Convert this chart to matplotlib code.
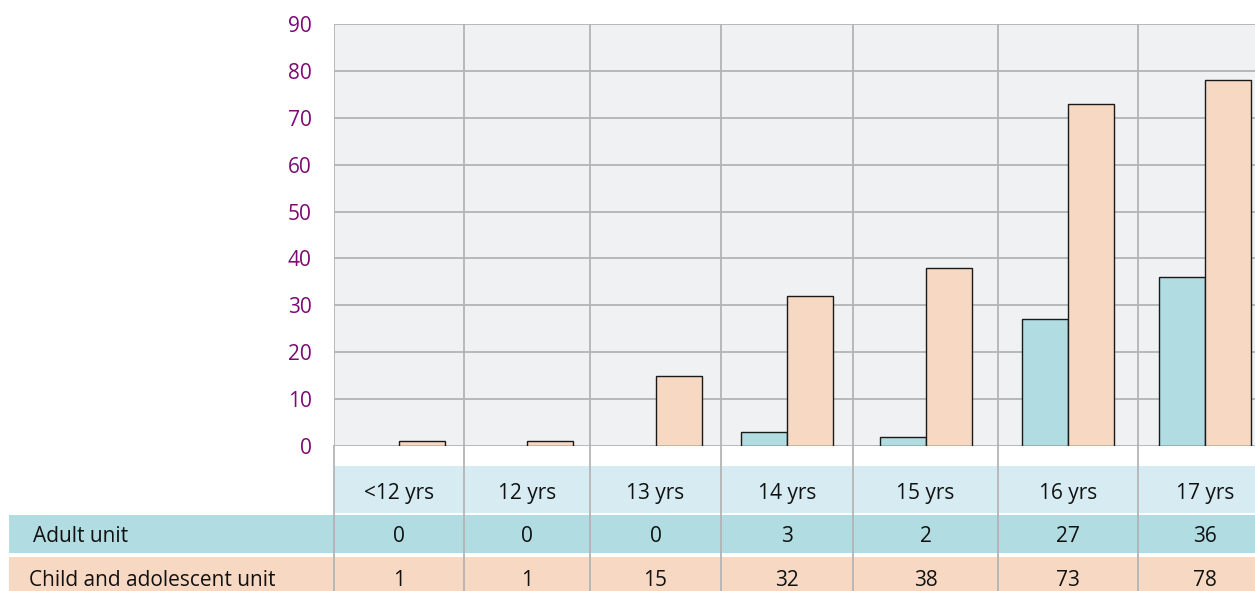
import numpy as np
import matplotlib.pyplot as plt
from matplotlib.patches import Rectangle

plt.rcParams['font.family'] = ['Open Sans', 'DejaVu Sans']

# data
ages = ["<12 yrs", "12 yrs", "13 yrs", "14 yrs", "15 yrs", "16 yrs", "17 yrs"]
adult = [0, 0, 0, 3, 2, 27, 36]
child = [1, 1, 15, 32, 38, 73, 78]
row_names = ["Adult unit", "Child and adolescent unit"]
yticks = [0, 10, 20, 30, 40, 50, 60, 70, 80, 90]

# layout (pixels of the 1255x591 canvas)
W, H = 1255, 591
col_edges = [334, 464, 590, 721, 853, 998, 1138, 1272]
plot_top, plot_bot = 24, 446
bar_w = 46

teal = '#b0dce2'
peach = '#f7d9c3'
head = '#d6ecf2'
grid = '#b4b4b6'
purple = '#7b0a72'
txt = '#111111'
fs = 15

fig = plt.figure(figsize=(W / 100, H / 100), dpi=100)

# table / background layer in pixel coordinates
tb = fig.add_axes([0, 0, 1, 1], zorder=0)
tb.set_xlim(0, W)
tb.set_ylim(H, 0)
tb.axis('off')
tb.add_patch(Rectangle((334, 466), W - 334, 47, color=head, lw=0))
tb.add_patch(Rectangle((9, 515), W - 9, 38, color=teal, lw=0))
tb.add_patch(Rectangle((9, 557), W - 9, 40, color=peach, lw=0))
for e in col_edges:
    tb.plot([e, e], [plot_bot, H], color=grid, lw=1.3)

centers = [(a + b) / 2 for a, b in zip(col_edges[:-1], col_edges[1:])]
for c, lab, a, ch in zip(centers, ages, adult, child):
    tb.text(c, 493, lab, ha='center', va='center', fontsize=fs, color=txt)
    tb.text(c, 537, str(a), ha='center', va='center', fontsize=fs, color=txt)
    tb.text(c, 581, str(ch), ha='center', va='center', fontsize=fs, color=txt)
tb.text(33, 537, row_names[0], ha='left', va='center', fontsize=fs, color=txt)
tb.text(29, 581, row_names[1], ha='left', va='center', fontsize=fs, color=txt)

# bar chart
ax = fig.add_axes([334 / W, 1 - plot_bot / H, (W - 334) / W, (plot_bot - plot_top) / H], zorder=1)
ax.set_facecolor('#f0f1f3')
ax.set_xlim(334, W)
ax.set_ylim(0, 90)
for s in ax.spines.values():
    s.set_visible(False)
ax.set_yticks(yticks)
ax.tick_params(axis='y', length=0, pad=16, labelsize=15, labelcolor=purple)
ax.set_xticks([])
for t in yticks:
    ax.axhline(t, color=grid, lw=1.3, zorder=1)
for e in col_edges:
    ax.axvline(e, color=grid, lw=1.3, zorder=1)

cx = np.array(centers)
ec_a = ['#1a1a1a' if v > 0 else 'none' for v in adult]
ec_c = ['#1a1a1a' if v > 0 else 'none' for v in child]
ax.bar(cx - bar_w / 2, adult, width=bar_w, color=teal, edgecolor=ec_a, lw=1, zorder=3)
ax.bar(cx + bar_w / 2, child, width=bar_w, color=peach, edgecolor=ec_c, lw=1, zorder=3)

fig.savefig('out.png', dpi=100)
